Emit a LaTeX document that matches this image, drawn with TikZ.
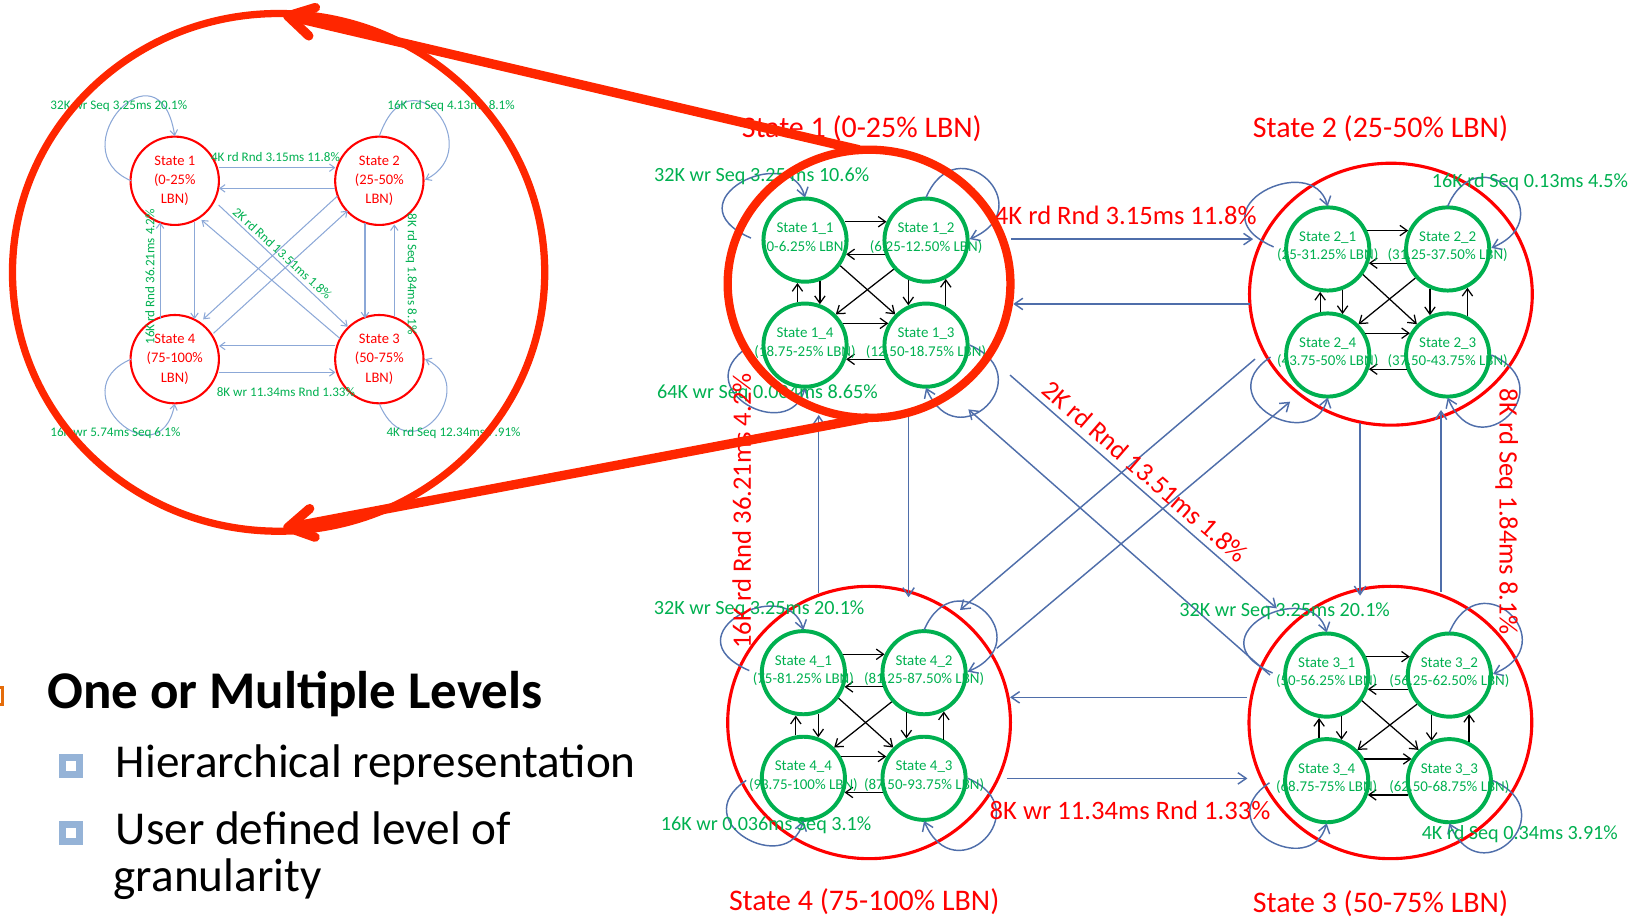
\documentclass[tikz,border=0pt]{standalone}
\usepackage{fontspec}
\setmainfont{Carlito}
\usetikzlibrary{arrows.meta,shapes.geometric,calc}
\definecolor{cGreen}{RGB}{0,176,80}
\definecolor{cBlue}{RGB}{79,110,170}
\definecolor{cLBlue}{RGB}{140,168,215}
\definecolor{cZoom}{RGB}{255,38,0}
\definecolor{cRed}{RGB}{255,0,0}
\definecolor{cBul}{RGB}{149,179,215}
\definecolor{cOr}{RGB}{228,108,10}
\tikzset{
 bl/.style={draw=cBlue, line width=0.7pt, -{Straight Barb[length=4pt,width=5.5pt]}},
 blk/.style={draw=black, line width=0.6pt, -{Straight Barb[length=3.5pt,width=5pt]}},
 ibl/.style={draw=cLBlue, line width=0.5pt, -{Straight Barb[length=2.5pt,width=3.6pt]}},
 sub/.style={circle, draw=cGreen, line width=1.9pt, minimum size=40pt, inner sep=0pt},
 subtxt/.style={text=cGreen, font=\fontsize{7.2}{8.8}\selectfont, align=center, inner sep=0pt, yshift=1pt},
 grp/.style={ellipse, draw=cRed, line width=1.5pt, inner sep=0pt},
 ist/.style={circle, draw=cRed, line width=1pt, minimum size=42.5pt, inner sep=0pt, text=cRed, font=\fontsize{7}{9.2}\selectfont, align=center},
 glab/.style={text=cGreen, font=\fontsize{9.7}{11}\selectfont, inner sep=0pt},
 iglab/.style={text=cGreen, font=\fontsize{6.3}{7}\selectfont, inner sep=0pt},
 rlab/.style={text=cRed, font=\fontsize{12.8}{14}\selectfont, inner sep=0pt},
 ttl/.style={text=cRed, font=\fontsize{14.4}{16}\selectfont, inner sep=0pt},
 zoomarrow/.style={draw=cZoom, line width=4.5pt, line cap=round, -{Straight Barb[length=12pt,width=14pt,round]}},
 bullet/.style={rectangle, draw=cBul, fill=white, line width=3.25pt, minimum size=8.25pt, inner sep=0pt},
}
\begin{document}
\begin{tikzpicture}[x=0.5pt,y=-0.5pt]
\useasboundingbox (0,0) rectangle (1568,883);

% ================= inset (left) =================
\node[ist] (S1) at (168.1,173.9) {State 1\\(0-25\%\\LBN)};
\node[ist] (S2) at (364.9,173.9) {State 2\\(25-50\%\\LBN)};
\node[ist] (S4) at (168.1,345.5) {State 4\\(75-100\%\\LBN)};
\node[ist] (S3) at (364.9,345.5) {State 3\\(50-75\%\\LBN)};

\draw[ibl] ($(S1)+(42.2,-12.6)$) -- ($(S2)+(-42.2,-12.6)$);
\draw[ibl] ($(S2)+(-42.2,7.3)$) -- ($(S1)+(42.6,7.3)$);
\draw[ibl] ($(S1)+(19,39.4)$) -- ($(S4)+(19,-38.6)$);
\draw[ibl] ($(S4)+(-14.1,-38.6)$) -- ($(S1)+(-14.1,40)$);
\draw[ibl] ($(S2)+(-13.8,41)$) -- ($(S3)+(-13.8,-39.3)$);
\draw[ibl] ($(S3)+(14.4,-41)$) -- ($(S2)+(14.4,42)$);
\draw[ibl] ($(S3)+(-42.2,-12.7)$) -- ($(S4)+(42.6,-12.7)$);
\draw[ibl] ($(S4)+(42.2,12.7)$) -- ($(S3)+(-42.2,12.7)$);
\draw[ibl] ($(S1)+(42.2,23.3)$) -- ($(S3)+(-30.4,-31.2)$);
\draw[ibl] ($(S3)+(-38,-20)$) -- ($(S1)+(25.7,37.7)$);
\draw[ibl] ($(S2)+(-40.3,14.7)$) -- ($(S4)+(27.3,-38.3)$);
\draw[ibl] ($(S4)+(37.3,-24.9)$) -- ($(S2)+(-30.4,28.8)$);

\draw[ibl] ($(S1)+(-42,0)$) .. controls +(-70,-30) and +(-15,-95) .. ($(S1)+(0,-43)$);
\draw[ibl] ($(S2)+(0,-43)$) .. controls +(30,-85) and +(60,-30) .. ($(S2)+(44,-1)$);
\draw[ibl] ($(S4)+(-42,0)$) .. controls +(-70,30) and +(-15,75) .. ($(S4)+(0,43)$);
\draw[ibl] ($(S3)+(0,43)$) .. controls +(30,70) and +(55,25) .. ($(S3)+(44,0)$);

\node[iglab] (il1) at (114.3,102) {32K wr Seq 3.25ms 20.1\%};
\node[iglab] (il2) at (433.9,102) {16K rd Seq 4.13ms 8.1\%};
\node[iglab] (il3) at (265,151.3) {4K rd Rnd 3.15ms 11.8\%};
\node[iglab, rotate=-42.6] (il4) at (271.6,243.7) {2K rd Rnd 13.51ms 1.8\%};
\node[iglab, rotate=90] (il5) at (144.1,266.2) {16K rd Rnd 36.21ms 4.2\%};
\node[iglab, rotate=-90] (il6) at (395.8,263.6) {8K rd Seq 1.84ms 8.1\%};
\node[iglab] (il7) at (275,377.4) {8K wr 11.34ms Rnd 1.33\%};
\node[iglab] (il8) at (111,417) {16K wr 5.74ms Seq 6.1\%};
\node[iglab] (il9) at (436.3,417) {4K rd Seq 12.34ms 7.91\%};

\node[ellipse, draw=cZoom, line width=3.5pt, minimum width=256pt, minimum height=249pt, inner sep=0pt] (Z) at (268,262) {};

% ================= right: groups =================
\node[ellipse, minimum width=136pt, minimum height=129pt, inner sep=0pt] (G1) at (836,273) {};
\node[grp, minimum width=136pt, minimum height=126pt] (G2) at (1338,283) {};
\node[grp, minimum width=136pt, minimum height=131pt] (G4) at (836,695) {};
\node[grp, minimum width=136pt, minimum height=131pt] (G3) at (1337.5,695) {};

\draw[bl] ($(G1)+(137,-43)$) -- ($(G2)+(-132.5,-53)$);
\draw[bl] ($(G2)+(-135.5,9.4)$) -- ($(G1)+(138.7,19.4)$);
\draw[bl] ($(G1)+(38,123)$) -- ($(G4)+(38,-120.5)$);
\draw[bl] ($(G4)+(-48.4,-124.2)$) -- ($(G1)+(-48.4,126.2)$);
\draw[bl] ($(G2)+(-29.7,124)$) -- ($(G3)+(-29.2,-122)$);
\draw[bl] ($(G3)+(48.7,-126)$) -- ($(G2)+(48.2,111.4)$);
\draw[bl] ($(G3)+(-137.9,-24.2)$) -- ($(G4)+(135.6,-24.2)$);
\draw[bl] ($(G4)+(132.4,53.8)$) -- ($(G3)+(-137.5,53.8)$);
\draw[bl] ($(G2)+(-130.7,62.4)$) -- ($(G4)+(87.5,-108.2)$);
\draw[bl] ($(G4)+(122.8,-71.3)$) -- ($(G2)+(-97,103.4)$);
\draw[bl] ($(G1)+(135.6,87.8)$) -- ($(G3)+(-109.3,-109.8)$);
\draw[bl] ($(G3)+(-115.8,-45.6)$) -- ($(G1)+(95.5,120.8)$);

% sub-state circles
\node[sub] (a1) at (774.4,231) {};
\node[sub] (a2) at (890.8,231) {};
\node[sub] (a3) at (890.8,332) {};
\node[sub] (a4) at (774.4,332) {};
\node[sub] (b1) at (1277.2,239.5) {};
\node[sub] (b2) at (1392.6,239.5) {};
\node[sub] (b3) at (1392.6,341.5) {};
\node[sub] (b4) at (1277.2,341.5) {};
\node[sub] (c1) at (1276.2,649.4) {};
\node[sub] (c2) at (1394.2,649.4) {};
\node[sub] (c3) at (1394.2,751) {};
\node[sub] (c4) at (1276.2,751) {};
\node[sub] (d1) at (772.8,647.1) {};
\node[sub] (d2) at (888.9,647.1) {};
\node[sub] (d3) at (888.9,748.7) {};
\node[sub] (d4) at (772.8,748.7) {};

\foreach \g in {a,b,c,d}{
  \draw[bl] ($(\g1)+(-52,-2)$) .. controls +(-80,-35) and +(-15,-55) .. ($(\g1)+(0,-41)$);
  \draw[bl] ($(\g2)+(0,-41)$) .. controls +(30,-70) and +(70,-30) .. ($(\g2)+(42,-1)$);
  \draw[bl] ($(\g4)+(-55,2)$) .. controls +(-60,40) and +(-15,55) .. ($(\g4)+(0,41)$);
  \draw[bl] ($(\g3)+(42,0)$) .. controls +(70,30) and +(30,70) .. ($(\g3)+(0,41)$);
  \draw[blk] (\g1.25) -- (\g2.155);
  \draw[blk] (\g2.199) -- (\g1.341);
  \draw[blk] (\g4.30) -- (\g3.150);
  \draw[blk] (\g3.199) -- (\g4.341);
  \draw[blk] (\g4.100) -- (\g1.260);
  \draw[blk] (\g1.290) -- (\g4.70);
  \draw[blk] (\g2.246) -- (\g3.114);
  \draw[blk] (\g3.63) -- (\g2.297);
  \draw[blk] (\g1.324) -- (\g3.135);
  \draw[blk] (\g2.222) -- (\g4.45);
}

\node[subtxt] (a1t) at (a1) {State 1\_1\\(0-6.25\% LBN)};
\node[subtxt] (a2t) at (a2) {State 1\_2\\(6.25-12.50\% LBN)};
\node[subtxt] (a3t) at (a3) {State 1\_3\\(12.50-18.75\% LBN)};
\node[subtxt] (a4t) at (a4) {State 1\_4\\(18.75-25\% LBN)};
\node[subtxt] (b1t) at (b1) {State 2\_1\\(25-31.25\% LBN)};
\node[subtxt] (b2t) at (b2) {State 2\_2\\(31.25-37.50\% LBN)};
\node[subtxt] (b3t) at (b3) {State 2\_3\\(37.50-43.75\% LBN)};
\node[subtxt] (b4t) at (b4) {State 2\_4\\(43.75-50\% LBN)};
\node[subtxt] (c1t) at (c1) {State 3\_1\\(50-56.25\% LBN)};
\node[subtxt] (c2t) at (c2) {State 3\_2\\(56.25-62.50\% LBN)};
\node[subtxt] (c3t) at (c3) {State 3\_3\\(62.50-68.75\% LBN)};
\node[subtxt] (c4t) at (c4) {State 3\_4\\(68.75-75\% LBN)};
\node[subtxt] (d1t) at (d1) {State 4\_1\\(75-81.25\% LBN)};
\node[subtxt] (d2t) at (d2) {State 4\_2\\(81.25-87.50\% LBN)};
\node[subtxt] (d3t) at (d3) {State 4\_3\\(87.50-93.75\% LBN)};
\node[subtxt] (d4t) at (d4) {State 4\_4\\(93.75-100\% LBN)};

% labels
\node[glab] (l1) at (732.7,169.3) {32K wr Seq 3.25 ms 10.6\%};
\node[glab] (l2) at (1471.8,174.8) {16K rd Seq 0.13ms 4.5\%};
\node[glab] (l3) at (738.3,378.4) {64K wr Seq 0.004ms 8.65\%};
\node[glab] (l4) at (730.3,586.2) {32K wr Seq 3.25ms 20.1\%};
\node[glab] (l5) at (1235.8,588.4) {32K wr Seq 3.25ms 20.1\%};
\node[glab] (l6) at (737,793.6) {16K wr 0.036ms Seq 3.1\%};
\node[glab] (l7) at (1462,802.3) {4K rd Seq 0.34ms 3.91\%};

\node[rlab] (r1) at (1083,206.8) {4K rd Rnd 3.15ms 11.8\%};
\node[rlab, rotate=-41] (r2) at (1101.5,453.7) {2K rd Rnd 13.51ms 1.8\%};
\node[rlab, rotate=90] (r3) at (713.5,491.5) {16K rd Rnd 36.21ms 4.2\%};
\node[rlab, rotate=-90] (r4) at (1449.4,492) {8K rd Seq 1.84ms 8.1\%};
\node[rlab] (r5) at (1087,780) {8K wr 11.34ms Rnd 1.33\%};

\node[ttl] (t1) at (829,123.4) {State 1 (0-25\% LBN)};
\node[ttl] (t2) at (1328,123.4) {State 2 (25-50\% LBN)};
\node[ttl] (t4) at (831.3,867.4) {State 4 (75-100\% LBN)};
\node[ttl] (t3) at (1328,869) {State 3 (50-75\% LBN)};

% thick zoom ring and arrows
\node[ellipse, draw=cZoom, line width=4pt, minimum width=136pt, minimum height=129pt, inner sep=0pt] (G1ring) at (G1) {};
\draw[zoomarrow] ($(G1)+(-10,-129)$) -- ($(Z)+(4.5,-247.6)$);
\draw[zoomarrow] ($(G1)+(-2,129)$) -- ($(Z)+(4.5,246.3)$);

% ================= bottom-left text =================
\node[rectangle, draw=cOr, fill=white, line width=1.5pt, minimum size=8.5pt, inner sep=0pt] (ob) at (-6,669.5) {};
\node[anchor=base west, inner sep=0pt, font=\fontsize{25.5}{30}\selectfont\bfseries] (h1) at (45,681.4) {One or Multiple Levels};
\node[bullet] (bu1) at (68.5,736.9) {};
\node[bullet] (bu2) at (68.5,801.4) {};
\node[anchor=base west, inner sep=0pt, font=\fontsize{22.7}{27}\selectfont] (h2) at (111,747.8) {Hierarchical representation};
\node[anchor=base west, inner sep=0pt, font=\fontsize{22.7}{27}\selectfont] (h3) at (111,812) {User defined level of};
\node[anchor=base west, inner sep=0pt, font=\fontsize{22.7}{27}\selectfont] (h4) at (109,857.8) {granularity};
\end{tikzpicture}
\end{document}
